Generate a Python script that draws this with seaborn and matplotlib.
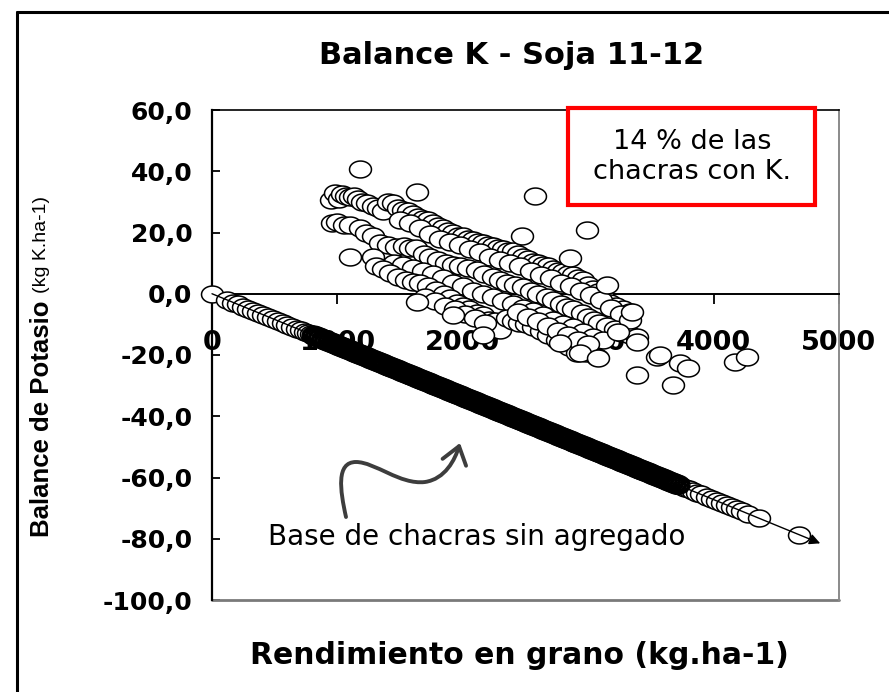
import numpy as np
import matplotlib
matplotlib.use("Agg")
import matplotlib.pyplot as plt
import seaborn as sns
from matplotlib.path import Path
from matplotlib.patches import FancyArrowPatch, Rectangle, ArrowStyle
from matplotlib.lines import Line2D

# ---------------- data ----------------
title = "Balance K - Soja 11-12"
x_label = "Rendimiento en grano (kg.ha-1)"
y_label_bold = "Balance de Potasio"
y_label_unit = "(kg K.ha-1)"
box_text = "14 % de las\nchacras con K."
note_text = "Base de chacras sin agregado"

x_ticks = [0, 1000, 2000, 3000, 4000, 5000]
x_tick_labels = ["0", "1000", "2000", "3000", "4000", "5000"]
y_ticks = [60, 40, 20, 0, -20, -40, -60, -80, -100]
y_tick_labels = ["60,0", "40,0", "20,0", "0,0", "-20,0", "-40,0", "-60,0", "-80,0", "-100,0"]

# fields without K (on the export line)
base_yield = [0, 120, 170, 210, 250, 290, 330, 370, 410, 450, 490, 530, 570, 600, 640, 680, 710, 740,
              765, 790, 815, 840, 865, 890, 915, 940, 965, 990,
              1015, 1040, 1065, 1090, 1115, 1140, 1165, 1190, 1215, 1240,
              1265, 1290, 1315, 1340, 1365, 1390, 1415, 1440, 1465, 1490,
              1515, 1540, 1565, 1590, 1615, 1640, 1665, 1690, 1715, 1740,
              1765, 1790, 1815, 1840, 1865, 1890, 1915, 1940, 1965, 1990,
              2015, 2040, 2065, 2090, 2115, 2140, 2165, 2190, 2215, 2240,
              2265, 2290, 2315, 2340, 2365, 2390, 2415, 2440, 2465, 2490,
              2515, 2540, 2565, 2590, 2615, 2640, 2665, 2690, 2715, 2740,
              2765, 2790, 2815, 2840, 2865, 2890, 2915, 2940, 2965, 2990,
              3015, 3040, 3065, 3090, 3115, 3140, 3165, 3190, 3215, 3240,
              3265, 3290, 3315, 3340, 3365, 3390, 3415, 3440, 3465, 3490,
              3515, 3540, 3565, 3590, 3615, 3640, 3665, 3690, 3715, 3740,
              3770, 3800, 3835, 3865, 3900, 3944, 3985, 4024, 4065, 4104,
              4145, 4183, 4230, 4271, 4366, 4685]
base_balance = [0.0, -2.0, -2.9, -3.5, -4.2, -4.9, -5.5, -6.2, -6.9, -7.6, -8.2, -8.9, -9.6, -10.1, -10.8, -11.4, -11.9, -12.4,
                -12.9, -13.3, -13.7, -14.1, -14.5, -15.0, -15.4, -15.8, -16.2, -16.6,
                -17.1, -17.5, -17.9, -18.3, -18.7, -19.2, -19.6, -20.0, -20.4, -20.8,
                -21.3, -21.7, -22.1, -22.5, -22.9, -23.4, -23.8, -24.2, -24.6, -25.0,
                -25.5, -25.9, -26.3, -26.7, -27.1, -27.6, -28.0, -28.4, -28.8, -29.2,
                -29.7, -30.1, -30.5, -30.9, -31.3, -31.8, -32.2, -32.6, -33.0, -33.4,
                -33.9, -34.3, -34.7, -35.1, -35.5, -36.0, -36.4, -36.8, -37.2, -37.6,
                -38.1, -38.5, -38.9, -39.3, -39.7, -40.2, -40.6, -41.0, -41.4, -41.8,
                -42.3, -42.7, -43.1, -43.5, -43.9, -44.4, -44.8, -45.2, -45.6, -46.0,
                -46.5, -46.9, -47.3, -47.7, -48.1, -48.6, -49.0, -49.4, -49.8, -50.2,
                -50.7, -51.1, -51.5, -51.9, -52.3, -52.8, -53.2, -53.6, -54.0, -54.4,
                -54.9, -55.3, -55.7, -56.1, -56.5, -57.0, -57.4, -57.8, -58.2, -58.6,
                -59.1, -59.5, -59.9, -60.3, -60.7, -61.2, -61.6, -62.0, -62.4, -62.8,
                -63.3, -63.8, -64.4, -64.9, -65.5, -66.3, -66.9, -67.6, -68.3, -68.9,
                -69.6, -70.3, -71.1, -71.8, -73.3, -78.7]

# fields with K (cloud), read band by band
k_yield_1 = [950, 980, 1010, 1040, 1070, 1100, 1130, 1165, 1200, 1240,
             1280, 1320, 1360, 1400, 1440, 1480, 1520, 1560, 1600, 1640,
             1680, 1720, 1760, 1800, 1840, 1880, 1920, 1960, 2000, 2040,
             2080, 2120, 2160, 2200, 2240, 2280, 2320, 2360, 2400, 2440,
             2480, 2520, 2560, 2600, 2640, 2680, 2720, 2760, 2800, 2840,
             2880, 2920, 2960, 3000, 3040, 3080, 3120, 3170, 3220, 3280, 3330]
k_bal_1 = [30.5, 33, 31, 32.5, 32, 31.5, 32, 30.8, 30, 29.5,
           28.5, 28, 27, 29.8, 29.5, 28, 27.5, 26.9, 26, 25.2,
           24.5, 24, 23, 22, 21.5, 20.5, 20, 19, 18.7, 18,
           17.5, 17, 16.5, 16, 15.5, 15, 14.5, 14, 13.8, 13,
           12, 11.5, 10.5, 10, 9.5, 9, 8, 7.5, 7, 6.5,
           6, 5, 4.5, 3, 1.5, 0.5, -1, -3, -4, -5, -6]
k_yield_1b = [1500, 1580, 1660, 1740, 1820, 1900, 1980, 2060, 2140, 2220,
              2300, 2380, 2460, 2540, 2620, 2700, 2780, 2860, 2940, 3020,
              3100, 3180, 3260]
k_bal_1b = [24, 23, 21.5, 19.5, 18, 17, 16, 14.5, 13.5, 12,
            11, 10, 9, 7.5, 6, 5, 3.5, 2.5, 1, -0.5,
            -2, -4.5, -6.5]
k_yield_2 = [960, 1000, 1050, 1100, 1180, 1230, 1280, 1340, 1400, 1470,
             1530, 1580, 1630, 1690, 1740, 1800, 1870, 1920, 1980, 2040,
             2110, 2170, 2240, 2300, 2350, 2420, 2480, 2540, 2600, 2670,
             2720, 2780, 2830, 2880, 2950, 3000, 3050, 3090, 3150, 3210,
             3270, 3330, 3390]
k_bal_2 = [23, 23.5, 22.5, 22.6, 21.6, 20, 18.7, 16.7, 16, 15.4,
           15.5, 15, 15.1, 13, 12.1, 11, 10.2, 9.5, 8.9, 8.5,
           7.9, 6.5, 5.6, 4.5, 3.6, 3, 2.3, 1, 0, -1,
           -2, -3.5, -4.3, -5, -6.2, -7.5, -8.5, -9.5, -10.5, -11.5,
           -12.8, -13.5, -14]
k_yield_3 = [1450, 1520, 1600, 1680, 1760, 1840, 1920, 2000, 2080, 2160,
             2240, 2320, 2400, 2480, 2560, 2640, 2720, 2800, 2880, 2960,
             3040, 3120]
k_bal_3 = [10, 9.5, 8.5, 7.5, 6.5, 5, 3.5, 2.5, 1, 0,
           -1, -2.5, -3.5, -4.5, -5.5, -7, -8.5, -10, -11, -12.5,
           -14, -15]
k_yield_4 = [1280, 1310, 1360, 1420, 1480, 1550, 1600, 1660, 1720, 1790,
             1850, 1900, 1950, 2000, 2050, 2110, 2160, 2210, 2260, 2300,
             2350, 2400, 2450, 2500, 2560, 2620, 2680, 2750, 2800, 2850,
             2910, 2980, 3070]
k_bal_4 = [12.1, 8.9, 8, 6.9, 5.5, 4.6, 4, 3.6, 2.5, 1.3,
           0, -1.5, -3, -4, -5, -6.2, -7, -8.5, -9, -11.8,
           -8, -9, -9.5, -10, -10.8, -12, -13.5, -15, -16, -17.5,
           -19.3, -19.5, -20.7]
k_yield_4b = [1700, 1780, 1860, 1940, 2020, 2100, 2180, 2440, 2520, 2600,
              2680, 2760, 2840, 2920, 3000]
k_bal_4b = [-1, -2.5, -4, -5, -6.5, -8, -9.5, -6, -7.5, -9,
            -10.5, -12, -13.5, -15, -16.5]
k_yield_out = [1179, 1633, 2574, 2988, 2470, 2853, 3147, 1100, 1633, 1920,
               2159, 2773, 2932, 3331, 3347, 3386, 3235, 3546, 3570, 3729,
               3793, 3386, 3673, 4167, 4263, 3076]
k_bal_out = [40.7, 33.1, 31.8, 20.8, 18.7, 11.8, 3, 12, -2.6, -6.9,
             -13.4, -16, -19.3, -8.5, -5.9, -15.7, -12.5, -20.7, -20, -22.6,
             -24.3, -26.6, -29.8, -22.3, -20.7, -21]

arrow_yield = [0, 4850]
arrow_balance = [0, -81.5]

# ---------------- figure ----------------
sns.set_theme(style="white")
plt.rcParams['font.family'] = ['DejaVu Sans']
for key in ['text.color', 'axes.labelcolor', 'xtick.color', 'ytick.color']:
    plt.rcParams[key] = 'black'

W, H = 889, 692
fig = plt.figure(figsize=(W / 100, H / 100), dpi=100)
fig.patch.set_facecolor('white')

def fx(px):
    return px / W

def fy(py):
    return 1 - py / H

ax = fig.add_axes([fx(212), fy(600), fx(839) - fx(212), fy(110) - fy(600)])
ax.set_facecolor('white')

t = np.linspace(0, 2 * np.pi, 61)
ell = np.column_stack([np.cos(t), 0.77 * np.sin(t)])
msize = 250

by = np.array(base_yield)
bb = np.array(base_balance)

sns.scatterplot(x=by, y=bb, ax=ax, marker=ell, s=msize, color='white',
                edgecolor='black', linewidth=1.1, clip_on=False, zorder=3, legend=False)
coll = ax.collections[-1]
coll.set_facecolor('white')
coll.set_edgecolor('black')

dense = (by > 800) & (by < 3720)
sns.scatterplot(x=by[dense], y=bb[dense], ax=ax, marker=ell, s=msize, color='black',
                edgecolor='black', linewidth=2.6, clip_on=False, zorder=3.5, legend=False)
coll = ax.collections[-1]
coll.set_facecolor('none')
coll.set_edgecolor('black')

k_yield = k_yield_1 + k_yield_1b + k_yield_2 + k_yield_3 + k_yield_4 + k_yield_4b + k_yield_out
k_balance = k_bal_1 + k_bal_1b + k_bal_2 + k_bal_3 + k_bal_4 + k_bal_4b + k_bal_out
sns.scatterplot(x=k_yield, y=k_balance, ax=ax, marker=ell, s=msize, color='white',
                edgecolor='black', linewidth=1.1, clip_on=False, zorder=4, legend=False)
coll = ax.collections[-1]
coll.set_facecolor('white')
coll.set_edgecolor('black')

ax.annotate('', xy=(arrow_yield[1], arrow_balance[1]), xytext=(arrow_yield[0], arrow_balance[0]),
            arrowprops=dict(arrowstyle='-|>', color='black', lw=1.0, mutation_scale=16,
                            shrinkA=0, shrinkB=0), zorder=6, annotation_clip=False)

ax.set_xlim(0, 5000)
ax.set_ylim(-100, 60)
ax.spines['bottom'].set_position(('data', 0))
for s in ['left', 'bottom', 'top']:
    ax.spines[s].set_color('black')
ax.spines['left'].set_linewidth(1.6)
ax.spines['bottom'].set_linewidth(1.4)
ax.spines['top'].set_linewidth(1.2)
ax.spines['right'].set_color('#8a8a8a')
ax.spines['right'].set_linewidth(1.4)
ax.axhline(-100, color='#7a7a7a', lw=2.0, clip_on=False, zorder=2)

ax.set_xticks(x_ticks)
ax.set_xticklabels(x_tick_labels, fontsize=19.5, fontweight='bold')
ax.set_yticks(y_ticks)
ax.set_yticklabels(y_tick_labels, fontsize=18, fontweight='bold')
ax.tick_params(axis='x', direction='out', length=7, width=1.3, pad=19, colors='black', bottom=True)
ax.tick_params(axis='y', direction='in', length=6, width=1.3, pad=14, colors='black', left=True)
ax.set_xlabel('')
ax.set_ylabel('')

# titles and labels
fig.text(fx(512), fy(55), title, ha='center', va='center', fontsize=22, fontweight='bold')
fig.text(fx(519), fy(655), x_label, ha='center', va='center', fontsize=21.5, fontweight='bold')
fig.text(fx(42), fy(537), y_label_bold, rotation=90, ha='center', va='bottom',
         fontsize=18.5, fontweight='bold', family=['Liberation Sans', 'DejaVu Sans'])
fig.text(fx(42), fy(293), y_label_unit, rotation=90, ha='center', va='bottom',
         fontsize=14, family=['Liberation Sans', 'DejaVu Sans'])

# red box
fig.add_artist(Rectangle((fx(568), fy(205)), fx(815) - fx(568), fy(108) - fy(205),
                         transform=fig.transFigure, facecolor='white', edgecolor='#ff0000',
                         lw=3, zorder=5))
fig.text(fx(692), fy(157), box_text, ha='center', va='center', multialignment='center',
         fontsize=19.5, linespacing=1.2, zorder=6)

# note with curly arrow
fig.text(fx(268), fy(537), note_text, ha='left', va='center', fontsize=20, zorder=6)
curve_px = [(346, 517), (340, 490), (336, 462), (356, 462),
            (375, 462), (400, 485), (425, 482),
            (445, 479), (455, 460), (460, 443)]
verts = [(fx(px), fy(py)) for px, py in curve_px]
codes = [Path.MOVETO] + [Path.CURVE4] * 9
curly = FancyArrowPatch(path=Path(verts, codes), transform=fig.transFigure,
                        arrowstyle=ArrowStyle('->', head_length=0.55, head_width=0.4),
                        mutation_scale=22, lw=2.8, color='#3d3d3d', zorder=6,
                        capstyle='round', joinstyle='round')
fig.add_artist(curly)

# outer frame (left and top)
fig.add_artist(Line2D([fx(17), fx(17)], [0, fy(12)], transform=fig.transFigure,
                      color='black', lw=2.2))
fig.add_artist(Line2D([fx(17), 1], [fy(12), fy(12)], transform=fig.transFigure,
                      color='black', lw=2.2))

fig.savefig('out.png', dpi=100)
